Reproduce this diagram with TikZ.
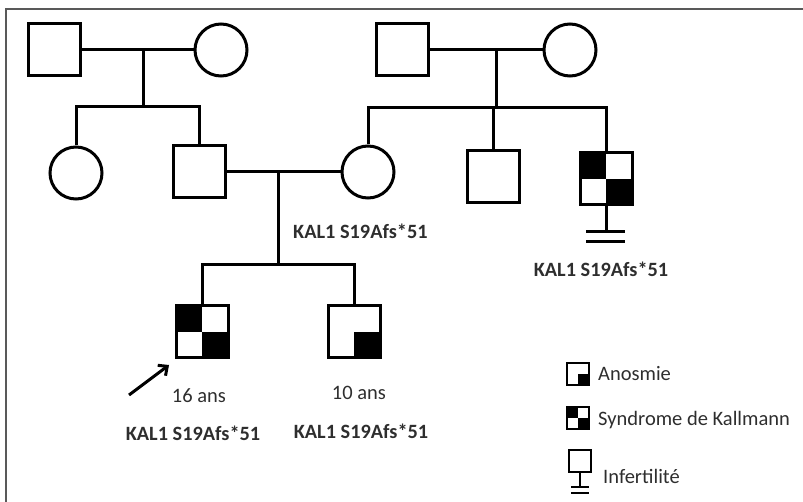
\documentclass[tikz,border=0pt]{standalone}
\usepackage{fontspec}
\setmainfont{Carlito}
\usetikzlibrary{arrows.meta,calc}
\tikzset{
  ln/.style={line width=3pt},
  sq/.style={draw, line width=3pt, rectangle, minimum size=52pt, inner sep=0pt, fill=white},
  ci/.style={draw, line width=3pt, circle, minimum size=52pt, inner sep=0pt, fill=white},
  kall/.style={path picture={
      \fill[black] (path picture bounding box.north west) rectangle (path picture bounding box.center);
      \fill[black] (path picture bounding box.center) rectangle (path picture bounding box.south east);}},
  anos/.style={path picture={
      \fill[black] (path picture bounding box.center) rectangle (path picture bounding box.south east);}},
  lsq/.style={draw, line width=1.3pt, rectangle, minimum size=22pt, inner sep=0pt, fill=white},
  gene/.style={font=\fontsize{20.3}{22}\selectfont\bfseries, text=black!82, inner sep=0pt},
  txt/.style={font=\fontsize{20.5}{22}\selectfont, text=black!82, inner sep=0pt},
  frame/.style={line width=1.4pt, draw=black!65},
}
\begin{document}
\begin{tikzpicture}[x=1pt,y=-1pt]
\useasboundingbox (0,0) rectangle (803,502);
% frame
\coordinate (fTL) at (6,9);
\coordinate (fTR) at (803,9);
\coordinate (fBL) at (6,502);
\draw[frame] (fTR) -- (fTL) -- (fBL);

% generation I
\node[sq] (gfL) at (54,50) {};
\node[ci] (gmL) at (221,50) {};
\node[sq] (gfR) at (402,50) {};
\node[ci] (gmR) at (570,50) {};
\draw[ln] (gfL.east) -- (gmL.west);
\draw[ln] (gfR.east) -- (gmR.west);
\coordinate (dL) at (143,50);
\coordinate (sL) at (143,107);
\coordinate (dR) at (496,50);
\coordinate (sR) at (496,108);
\draw[ln] (dL) -- (sL);
\draw[ln] (dR) -- (sR);

% generation II
\node[ci] (aunt) at (76,173) {};
\node[sq] (father) at (199,172) {};
\node[ci] (mother) at (368,172) {};
\node[sq] (unc1) at (493,177) {};
\node[sq,kall] (unc2) at (606,179) {};
\draw[ln] (aunt.north) -- (aunt.north |- sL) -- (father.north |- sL) -- (father.north);
\draw[ln] (mother.north) -- (mother.north |- sR) -- (unc2.north |- sR) -- (unc2.north);
\draw[ln] (unc1.north) -- (unc1.north |- sR);
\draw[ln] (father.east) -- (mother.west);
\node[gene, anchor=west] (gM) at (293,231) {KAL1 S19Afs*51};

% infertility of uncle
\coordinate (infB) at (606,232);
\coordinate (b1L) at (586,232);
\coordinate (b1R) at (625,232);
\coordinate (b2L) at (586,242);
\coordinate (b2R) at (625,242);
\draw[ln] (unc2.south) -- (infB);
\draw[ln] (b1L) -- (b1R);
\draw[ln] (b2L) -- (b2R);
\node[gene] (gU) at (601,269) {KAL1 S19Afs*51};

% generation III
\coordinate (dC) at (278,172);
\coordinate (sC) at (278,265);
\draw[ln] (dC) -- (sC);
\node[sq,kall] (prob) at (202,332) {};
\node[sq,anos] (bro) at (354,332) {};
\draw[ln] (prob.north) -- (prob.north |- sC) -- (bro.north |- sC) -- (bro.north);
\coordinate (arS) at (129,395);
\coordinate (arE) at (169,365);
\draw[ln, -{Straight Barb[length=7pt,width=13pt,line width=3pt]}] (arS) -- (arE);
\node[txt] (a16) at (199,396) {16 ans};
\node[txt] (a10) at (359,393) {10 ans};
\node[gene] (gP) at (193,433) {KAL1 S19Afs*51};
\node[gene] (gB) at (361,431) {KAL1 S19Afs*51};

% legend
\node[lsq,anos] (lA) at (578,374) {};
\node[txt, anchor=west] (tA) at (598,374) {Anosmie};
\node[lsq,kall] (lK) at (578,418) {};
\node[txt, anchor=west] (tK) at (598,420) {Syndrome de Kallmann};
\node[lsq] (lI) at (580,461) {};
\coordinate (lIb) at (580,487);
\coordinate (l1L) at (571,487);
\coordinate (l1R) at (589,487);
\coordinate (l2L) at (571,493);
\coordinate (l2R) at (589,493);
\draw[line width=1.1pt] (lI.south) -- (lIb);
\draw[line width=1.1pt] (l1L) -- (l1R);
\draw[line width=1.1pt] (l2L) -- (l2R);
\node[txt, anchor=west] (tI) at (603,476) {Infertilité};
\end{tikzpicture}
\end{document}
